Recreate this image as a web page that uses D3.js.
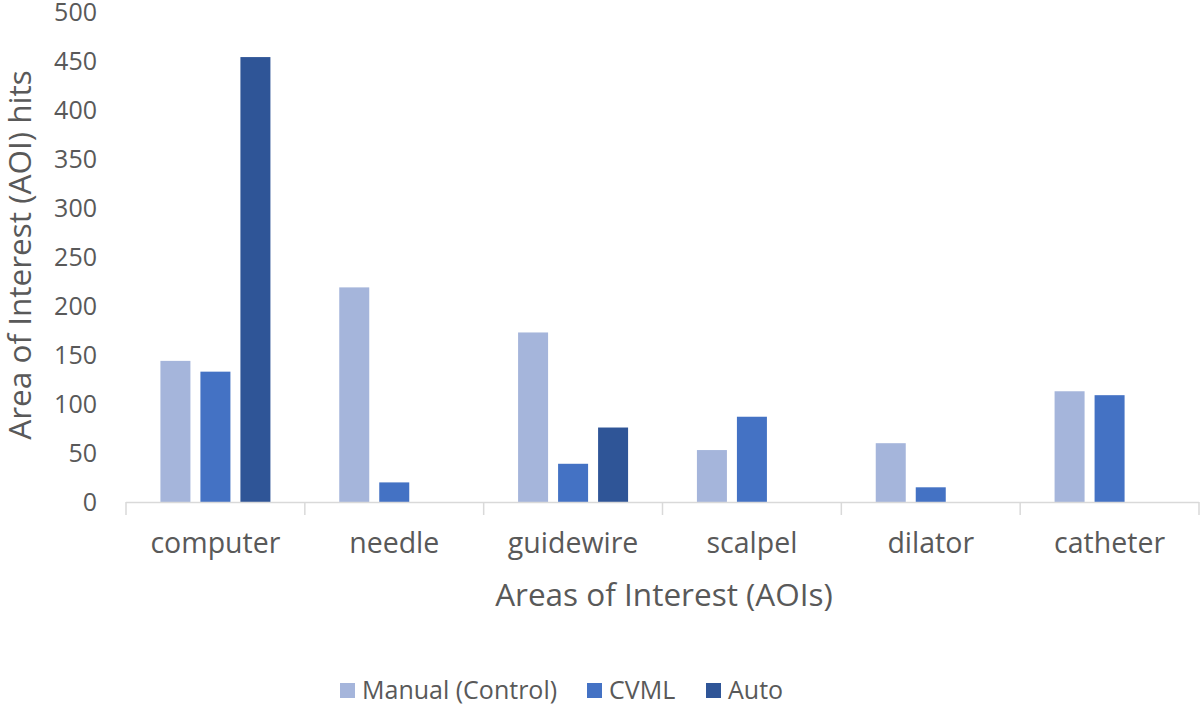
<!doctype html>
<html lang="en">
<head>
<meta charset="UTF-8">
<title>AOI hits</title>
<style>
  body { margin: 0; background: #fff; }
  svg { display: block; font-family: "Open Sans", "Noto Sans", sans-serif; }
  .axis text { fill: #595959; font-family: "Open Sans", "Noto Sans", sans-serif; }
  .axis path, .axis line { display: none; }
</style>
</head>
<body>
<script src="https://cdn.jsdelivr.net/npm/d3@7"></script>
<script>
var categories = ["computer", "needle", "guidewire", "scalpel", "dilator", "catheter"];
var seriesNames = ["Manual (Control)", "CVML", "Auto"];
var manual = [144, 219, 173, 53, 60, 113];
var cvml = [133, 20, 39, 87, 15, 109];
var auto = [454, 0, 76, 0, 0, 0];
var yTicks = [0, 50, 100, 150, 200, 250, 300, 350, 400, 450, 500];
var colors = ["#a5b5db", "#4472c4", "#2f5597"];

var width = 1200, height = 707;
var series = [manual, cvml, auto];

var svg = d3.select("body").append("svg")
  .attr("width", width)
  .attr("height", height);

var x0 = d3.scaleBand().domain(categories).range([126, 1199]).padding(0);
var groupW = 110;
var x1 = d3.scaleBand().domain(seriesNames)
  .range([(x0.bandwidth() - groupW) / 2, (x0.bandwidth() + groupW) / 2])
  .paddingInner(0.25);
var y = d3.scaleLinear().domain([0, 500]).range([502, 12]);

// bars
var groups = svg.append("g").selectAll("g")
  .data(categories)
  .enter().append("g")
  .attr("transform", function(d) { return "translate(" + x0(d) + ",0)"; });

groups.selectAll("rect")
  .data(function(d, i) {
    return seriesNames.map(function(s, j) { return { name: s, value: series[j][i], j: j }; })
      .filter(function(e) { return e.value > 0; });
  })
  .enter().append("rect")
  .attr("x", function(d) { return x1(d.name); })
  .attr("width", x1.bandwidth())
  .attr("y", function(d) { return y(d.value); })
  .attr("height", function(d) { return y(0) - y(d.value); })
  .attr("fill", function(d) { return colors[d.j]; });

// y axis labels
svg.append("g")
  .attr("class", "axis")
  .attr("transform", "translate(97,0)")
  .call(d3.axisLeft(y).tickValues(yTicks).tickSize(0).tickPadding(0))
  .selectAll("text")
  .style("font-size", "25px");

// x axis line and separators
var axisG = svg.append("g");
axisG.append("line")
  .attr("x1", x0.range()[0]).attr("x2", x0.range()[1])
  .attr("y1", y(0) + 0.5).attr("y2", y(0) + 0.5)
  .attr("stroke", "#d9d9d9").attr("stroke-width", 1.5);
var edges = categories.map(function(d) { return x0(d); }).concat([x0.range()[1]]);
axisG.selectAll("line.sep")
  .data(edges)
  .enter().append("line")
  .attr("class", "sep")
  .attr("x1", function(d) { return d; }).attr("x2", function(d) { return d; })
  .attr("y1", y(0)).attr("y2", y(0) + 13)
  .attr("stroke", "#d9d9d9").attr("stroke-width", 1.5);

// category labels
svg.append("g")
  .attr("class", "axis")
  .attr("transform", "translate(0," + (y(0)) + ")")
  .call(d3.axisBottom(x0).tickSize(0).tickPadding(0))
  .selectAll("text")
  .attr("dy", null)
  .attr("y", 51)
  .style("font-size", "28.5px");

// axis titles
svg.append("text")
  .attr("x", 664).attr("y", 606)
  .attr("text-anchor", "middle")
  .attr("fill", "#595959")
  .style("font-size", "31.5px")
  .text("Areas of Interest (AOIs)");

svg.append("text")
  .attr("transform", "translate(31,255) rotate(-90)")
  .attr("text-anchor", "middle")
  .attr("fill", "#595959")
  .style("font-size", "31.5px")
  .text("Area of Interest (AOI) hits");

// legend
var legendX = [340, 587, 706];
var legend = svg.append("g").selectAll("g")
  .data(seriesNames)
  .enter().append("g")
  .attr("transform", function(d, i) { return "translate(" + legendX[i] + ",683)"; });
legend.append("rect")
  .attr("width", 15).attr("height", 15)
  .attr("fill", function(d, i) { return colors[i]; });
legend.append("text")
  .attr("x", 22).attr("y", 16)
  .attr("fill", "#595959")
  .style("font-size", "25px")
  .text(function(d) { return d; });
</script>
</body>
</html>
